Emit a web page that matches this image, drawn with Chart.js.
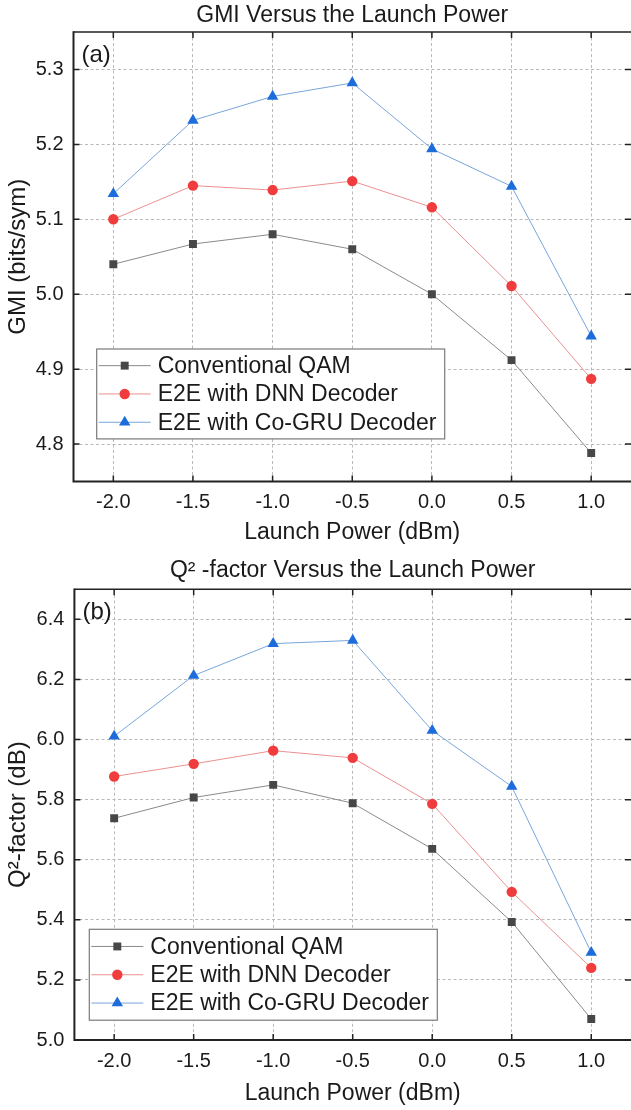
<!DOCTYPE html>
<html>
<head>
<meta charset="utf-8">
<script src="https://cdn.jsdelivr.net/npm/chart.js@4.4.0/dist/chart.umd.min.js"></script>
<style>
  html, body { margin: 0; padding: 0; background: #fff; }
  .panel { width: 631px; height: 555px; overflow: hidden; }
  canvas { display: block; }
</style>
</head>
<body>
<div class="panel"><canvas id="gmiChart" width="631" height="555"></canvas></div>
<div class="panel"><canvas id="q2Chart" width="631" height="555"></canvas></div>
<script>
// --- data ---
const launchPower = [-2.0, -1.5, -1.0, -0.5, 0.0, 0.5, 1.0];
const seriesNames = ['Conventional QAM', 'E2E with DNN Decoder', 'E2E with Co-GRU Decoder'];

const gmiQam = [5.040, 5.067, 5.080, 5.060, 5.000, 4.912, 4.788];
const gmiDnn = [5.100, 5.145, 5.139, 5.151, 5.116, 5.011, 4.887];
const gmiGru = [5.134, 5.232, 5.264, 5.282, 5.194, 5.144, 4.944];

const q2Qam = [5.738, 5.807, 5.849, 5.788, 5.636, 5.393, 5.070];
const q2Dnn = [5.877, 5.919, 5.963, 5.939, 5.786, 5.493, 5.240];
const q2Gru = [6.011, 6.213, 6.319, 6.330, 6.030, 5.844, 5.291];

const powerTicks = [-2.0, -1.5, -1.0, -0.5, 0.0, 0.5, 1.0];
const gmiTicks = [4.8, 4.9, 5.0, 5.1, 5.2, 5.3];
const q2Ticks = [5.0, 5.2, 5.4, 5.6, 5.8, 6.0, 6.2, 6.4];

// --- look ---
const FONT = 'Arial, "Liberation Sans", sans-serif';
Chart.defaults.font.family = FONT;
Chart.defaults.color = '#1a1a1a';

const seriesStyles = [
    { line: '#8a8a8a', mark: '#474747', shape: 'rect', radius: 5.6 },
    { line: '#ec9090', mark: '#f03c3c', shape: 'circle', radius: 5.2 },
    { line: '#78a6dc', mark: '#1c6cdb', shape: 'triangle', radius: 6.6 }
];

// frame, inward ticks, panel tag, title and Origin-style legend
const framePlugin = {
    id: 'frame',
    afterDatasetsDraw(chart, args, opts) {
        const { ctx, chartArea: a, scales } = chart;
        ctx.save();

        // inward tick marks on all four sides
        ctx.strokeStyle = '#222';
        ctx.lineWidth = 1.5;
        ctx.beginPath();
        scales.x.ticks.forEach(t => {
            const px = scales.x.getPixelForValue(t.value);
            ctx.moveTo(px, a.bottom); ctx.lineTo(px, a.bottom - 6);
            ctx.moveTo(px, a.top); ctx.lineTo(px, a.top + 6);
        });
        scales.y.ticks.forEach(t => {
            const py = scales.y.getPixelForValue(t.value);
            ctx.moveTo(a.left, py); ctx.lineTo(a.left + 6, py);
            ctx.moveTo(a.right, py); ctx.lineTo(a.right - 6, py);
        });
        ctx.stroke();

        // box (right side falls off the picture)
        ctx.lineWidth = 1.5;
        ctx.beginPath();
        ctx.moveTo(a.left, a.top); ctx.lineTo(a.right, a.top);
        ctx.stroke();
        ctx.lineWidth = 2;
        ctx.beginPath();
        ctx.moveTo(a.left, a.top - 0.75); ctx.lineTo(a.left, a.bottom); ctx.lineTo(a.right, a.bottom);
        ctx.stroke();

        // title over the plot box
        ctx.fillStyle = '#1a1a1a';
        ctx.textAlign = 'center';
        ctx.textBaseline = 'middle';
        ctx.font = `23px ${FONT}`;
        ctx.fillText(opts.title, (a.left + a.right) / 2, opts.titleY);

        // (a) / (b)
        ctx.textAlign = 'left';
        ctx.font = `24px ${FONT}`;
        ctx.fillText(opts.tag, a.left + opts.tagDx, a.top + opts.tagDy);

        // legend
        const lg = opts.legend;
        const rows = chart.data.datasets.length;
        const h = lg.pad * 2 + lg.rowH * rows;
        ctx.fillStyle = '#fff';
        ctx.fillRect(lg.x, lg.y, lg.w, h);
        ctx.strokeStyle = '#7a7a7a';
        ctx.lineWidth = 1.2;
        ctx.strokeRect(lg.x, lg.y, lg.w, h);
        ctx.font = `23px ${FONT}`;
        chart.data.datasets.forEach((ds, i) => {
            const cy = lg.y + lg.pad + lg.rowH * (i + 0.5);
            ctx.strokeStyle = ds.borderColor;
            ctx.lineWidth = 1;
            ctx.beginPath();
            ctx.moveTo(lg.x + 2, cy); ctx.lineTo(lg.x + 54, cy);
            ctx.stroke();
            ctx.fillStyle = ds.pointBackgroundColor;
            ctx.strokeStyle = ds.pointBackgroundColor;
            Chart.helpers.drawPoint(ctx, {
                pointStyle: ds.pointStyle, radius: ds.pointRadius, rotation: 0, borderWidth: 0
            }, lg.x + 28, cy);
            ctx.fillStyle = '#1a1a1a';
            ctx.fillText(ds.label, lg.x + 61, cy + 1);
        });

        ctx.restore();
    }
};

function makeChart(canvasId, cfg) {
    const datasets = cfg.series.map((vals, i) => ({
        label: seriesNames[i],
        data: launchPower.map((p, k) => ({ x: p, y: vals[k] })),
        showLine: true,
        borderColor: seriesStyles[i].line,
        borderWidth: 1,
        pointStyle: seriesStyles[i].shape,
        pointRadius: seriesStyles[i].radius,
        pointHoverRadius: seriesStyles[i].radius,
        pointBackgroundColor: seriesStyles[i].mark,
        pointBorderColor: seriesStyles[i].mark,
        pointBorderWidth: 0
    }));

    const gridStyle = { color: '#b9b9b9', lineWidth: 1, drawTicks: false };
    const borderStyle = { display: false, dash: [3, 2.5] };

    return new Chart(document.getElementById(canvasId), {
        type: 'scatter',
        data: { datasets },
        options: {
            responsive: false,
            animation: false,
            devicePixelRatio: 1,
            layout: {
                autoPadding: false,
                padding: { top: cfg.top, left: 0, right: 0, bottom: 0 }
            },
            scales: {
                x: {
                    type: 'linear',
                    min: -2.25, max: 1.25,
                    afterBuildTicks: s => { s.ticks = powerTicks.map(v => ({ value: v })); },
                    afterFit: s => {
                        s.height = cfg.xAxisH;
                        s.paddingLeft = 0;
                        s.paddingRight = 0;
                    },
                    grid: gridStyle,
                    border: borderStyle,
                    ticks: {
                        padding: 9,
                        font: { size: 20 },
                        callback: v => v.toFixed(1)
                    },
                    title: {
                        display: true,
                        text: 'Launch Power (dBm)',
                        font: { size: 23 },
                        padding: { top: 0, bottom: cfg.xTitlePad }
                    }
                },
                y: {
                    type: 'linear',
                    min: cfg.yMin, max: cfg.yMax,
                    afterBuildTicks: s => { s.ticks = cfg.yTicks.map(v => ({ value: v })); },
                    afterFit: s => { s.width = cfg.yAxisW; },
                    grid: gridStyle,
                    border: borderStyle,
                    ticks: {
                        padding: 10,
                        font: { size: 20 },
                        callback: v => v.toFixed(1)
                    },
                    title: {
                        display: true,
                        text: cfg.yTitle,
                        font: { size: 24 },
                        padding: { top: 3.5, bottom: 0 }
                    }
                }
            },
            plugins: {
                legend: { display: false },
                tooltip: { enabled: false },
                frame: {
                    title: cfg.title,
                    titleY: cfg.titleY,
                    tag: cfg.tag,
                    tagDx: 8,
                    tagDy: 23,
                    legend: cfg.legend
                }
            }
        },
        plugins: [framePlugin]
    });
}

makeChart('gmiChart', {
    series: [gmiQam, gmiDnn, gmiGru],
    yMin: 4.75, yMax: 5.35, yTicks: gmiTicks,
    yTitle: 'GMI (bits/sym)',
    title: 'GMI Versus the Launch Power',
    titleY: 16,
    tag: '(a)',
    top: 32, yAxisW: 73.5, xAxisH: 73.5, xTitlePad: 8.5,
    legend: { x: 96.7, y: 349, w: 348, pad: 2.5, rowH: 28.3 }
});

makeChart('q2Chart', {
    series: [q2Qam, q2Dnn, q2Gru],
    yMin: 5.0, yMax: 6.5, yTicks: q2Ticks,
    yTitle: 'Q²-factor (dB)',
    title: 'Q² -factor Versus the Launch Power',
    titleY: 16,
    tag: '(b)',
    top: 34.3, yAxisW: 74.4, xAxisH: 70, xTitlePad: 2.5,
    legend: { x: 89.3, y: 374.3, w: 348, pad: 3, rowH: 28.3 }
});
</script>
</body>
</html>
